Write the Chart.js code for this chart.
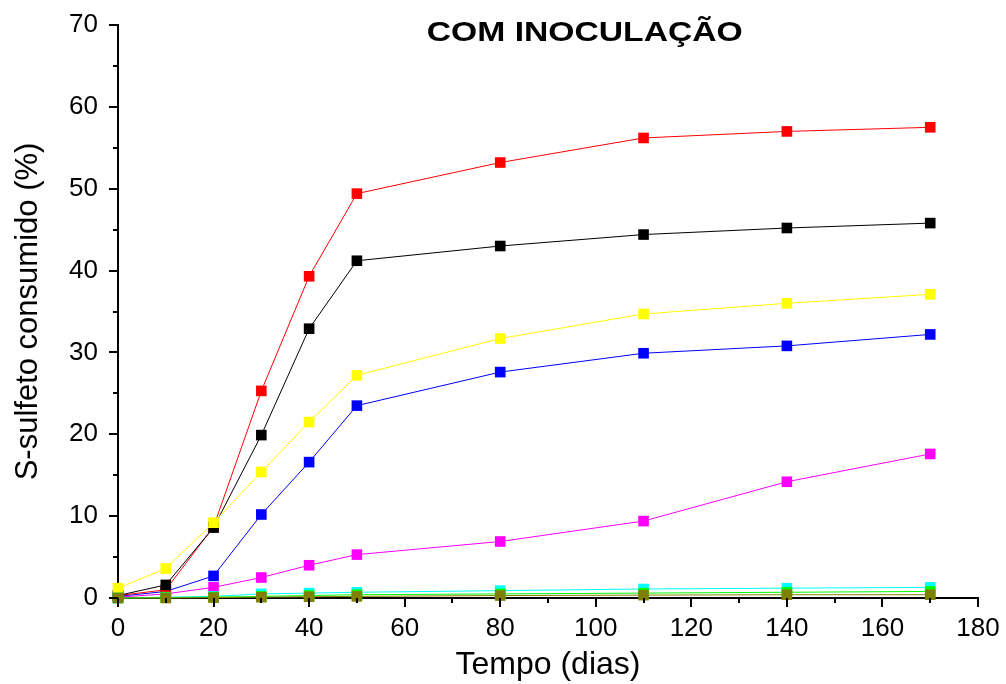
<!DOCTYPE html>
<html>
<head>
<meta charset="utf-8">
<script src="https://cdn.jsdelivr.net/npm/chart.js@4.4.1/dist/chart.umd.min.js"></script>
<style>
  html, body { margin: 0; padding: 0; background: #fff; }
  #wrap { width: 1006px; height: 684px; }
</style>
</head>
<body>
<div id="wrap"><canvas id="chart" width="1006" height="684"></canvas></div>
<script>
// days of sampling
var days = [0, 10, 20, 30, 40, 50, 80, 110, 140, 170];

// S-sulfeto consumido (%) per treatment
var redVals     = [0.3, 1.0, 8.7, 25.3, 39.3, 49.4, 53.2, 56.2, 57.0, 57.5];
var blackVals   = [0.3, 1.6, 8.6, 19.9, 32.9, 41.2, 43.0, 44.4, 45.2, 45.8];
var yellowVals  = [1.2, 3.6, 9.2, 15.4, 21.5, 27.2, 31.7, 34.7, 36.0, 37.1];
var blueVals    = [0.2, 0.8, 2.7, 10.2, 16.6, 23.5, 27.6, 29.9, 30.8, 32.2];
var magentaVals = [0.1, 0.5, 1.3, 2.5, 4.0, 5.3, 6.9, 9.4, 14.2, 17.6];
var cyanVals    = [0.0, 0.1, 0.2, 0.5, 0.6, 0.7, 0.9, 1.1, 1.2, 1.3];
var greenVals   = [0.0, 0.05, 0.1, 0.2, 0.3, 0.4, 0.5, 0.6, 0.7, 0.8];
var oliveVals   = [0.0, 0.0, 0.05, 0.1, 0.15, 0.2, 0.3, 0.35, 0.4, 0.4];

var chartTitle = "COM INOCULAÇÃO";
var xTitle = "Tempo (dias)";
var yTitle = "S-sulfeto consumido (%)";

var FONT = '"Liberation Sans", Arial, sans-serif';

function pts(vals){
    return days.map(function(d, i){ return {x: d, y: vals[i]}; });
}

function series(name, col, vals, ord){
    return {
        label: name,
        data: pts(vals),
        borderColor: col,
        backgroundColor: col,
        borderWidth: 1,
        pointStyle: 'rect',
        pointRadius: 7.5,
        pointBorderWidth: 0,
        pointHoverRadius: 7.5,
        tension: 0,
        clip: false,
        order: ord
    };
}

// minor/major tick marks drawn outward, plus the title inside the plot
var tickMarks = {
    id: 'tickMarks',
    afterDraw: function(chart){
        var ctx = chart.ctx;
        var xs = chart.scales.x, ys = chart.scales.y;
        var area = chart.chartArea;
        ctx.save();
        ctx.strokeStyle = '#000';
        ctx.lineWidth = 2;
        ctx.beginPath();
        for (var v = 0; v <= 180; v += 10) {
            var px = Math.round(xs.getPixelForValue(v));
            var len = (v % 20 === 0) ? 9 : 5;
            ctx.moveTo(px, area.bottom);
            ctx.lineTo(px, area.bottom + len);
        }
        for (var w = 0; w <= 70; w += 5) {
            var py = Math.round(ys.getPixelForValue(w));
            var l2 = (w % 10 === 0) ? 9 : 5;
            ctx.moveTo(area.left, py);
            ctx.lineTo(area.left - l2, py);
        }
        ctx.stroke();

        // title: original is drawn a bit wider than plain Arial bold
        ctx.fillStyle = '#000';
        ctx.font = 'bold 28px ' + FONT;
        ctx.textAlign = 'center';
        ctx.textBaseline = 'alphabetic';
        var tw = ctx.measureText(chartTitle).width;
        var sx = 316 / tw;
        ctx.translate(xs.getPixelForValue(97.7), ys.getPixelForValue(68.0));
        ctx.scale(sx, 1);
        ctx.fillText(chartTitle, 0, 0);
        ctx.restore();
    }
};

var ctx = document.getElementById('chart').getContext('2d');
new Chart(ctx, {
    type: 'line',
    data: {
        datasets: [
            series('olive', '#808000', oliveVals, 1),
            series('green', '#00ff00', greenVals, 2),
            series('cyan', '#00ffff', cyanVals, 3),
            series('yellow', '#ffff00', yellowVals, 4),
            series('black', '#000000', blackVals, 5),
            series('red', '#ff0000', redVals, 6),
            series('blue', '#0000ff', blueVals, 7),
            series('magenta', '#ff00ff', magentaVals, 8)
        ]
    },
    options: {
        responsive: false,
        animation: false,
        layout: { padding: { top: 25, right: 28, left: 0, bottom: 0 } },
        plugins: {
            legend: { display: false },
            title: { display: false },
            tooltip: { enabled: false }
        },
        scales: {
            x: {
                type: 'linear',
                min: 0,
                max: 180,
                grid: { display: false, drawTicks: false },
                border: { display: true, color: '#000', width: 2 },
                ticks: {
                    stepSize: 20,
                    padding: 15,
                    color: '#000',
                    maxRotation: 0,
                    font: { family: FONT, size: 26 }
                },
                title: {
                    display: true,
                    text: xTitle,
                    color: '#000',
                    padding: { top: 0, bottom: 0 },
                    font: { family: FONT, size: 32 }
                },
                afterFit: function(s){
                    s.height = 86;
                    s.paddingLeft = 0;
                    s.paddingRight = 0;
                }
            },
            y: {
                min: 0,
                max: 70,
                grid: { display: false, drawTicks: false },
                border: { display: true, color: '#000', width: 2 },
                ticks: {
                    stepSize: 10,
                    padding: 20,
                    color: '#000',
                    font: { family: FONT, size: 26 }
                },
                title: {
                    display: true,
                    text: yTitle,
                    color: '#000',
                    padding: { top: 10, bottom: 0 },
                    font: { family: FONT, size: 31 }
                },
                afterFit: function(s){
                    s.width = 118;
                    s.paddingTop = 0;
                    s.paddingBottom = 0;
                }
            }
        }
    },
    plugins: [tickMarks]
});
</script>
</body>
</html>
